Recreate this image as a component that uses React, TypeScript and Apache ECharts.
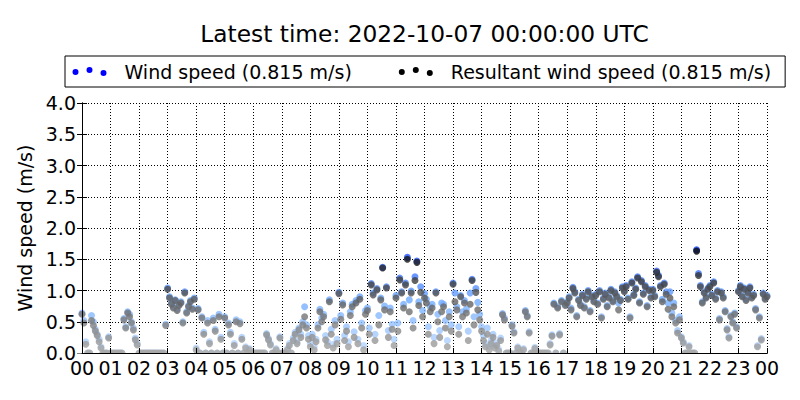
import React, { useEffect, useRef } from "react";
import * as echarts from "echarts";

const latestTime = "2022-10-07 00:00:00 UTC";
const latestWindSpeed = 0.815;
const latestResultant = 0.815;

const hourLabels = [
  "00", "01", "02", "03", "04", "05", "06", "07", "08", "09", "10", "11",
  "12", "13", "14", "15", "16", "17", "18", "19", "20", "21", "22", "23", "00",
];

const yTickValues = [0, 0.5, 1, 1.5, 2, 2.5, 3, 3.5, 4];

// 4-minute samples (15 per hour), m/s
const samplesPerHour = 15;

const windSpeed = [
  /* 00 */ 0.64, 0.52, 0.18, 0.0, 0.0, 0.6, 0.5, 0.38, 0.3, 0.22, 0.1, 0.0, 0.0, 0.0, 0.26,
  /* 01 */ 0.0, 0.0, 0.0, 0.0, 0.0, 0.0, 0.0, 0.55, 0.42, 0.66, 0.62, 0.5, 0.4, 0.24, 0.15,
  /* 02 */ 0.0, 0.0, 0.0, 0.0, 0.0, 0.0, 0.0, 0.0, 0.0, 0.0, 0.0, 0.0, 0.0, 0.0, 0.46,
  /* 03 */ 1.04, 0.9, 0.8, 0.74, 0.85, 0.7, 0.78, 0.82, 0.5, 0.98, 0.66, 0.76, 0.84, 0.72, 0.88,
  /* 04 */ 0.08, 0.71, 0.0, 0.58, 0.33, 0.0, 0.52, 0.18, 0.0, 0.56, 0.38, 0.0, 0.62, 0.25, 0.0,
  /* 05 */ 0.58, 0.0, 0.48, 0.33, 0.0, 0.15, 0.53, 0.0, 0.5, 0.25, 0.0, 0.1, 0.0, 0.07, 0.0,
  /* 06 */ 0.0, 0.0, 0.0, 0.0, 0.0, 0.0, 0.0, 0.31, 0.23, 0.15, 0.0, 0.0, 0.07, 0.0, 0.26,
  /* 07 */ 0.0, 0.0, 0.0, 0.07, 0.15, 0.0, 0.24, 0.33, 0.18, 0.4, 0.3, 0.5, 0.74, 0.45, 0.28,
  /* 08 */ 0.15, 0.3, 0.1, 0.22, 0.45, 0.7, 0.56, 0.62, 0.28, 0.18, 0.85, 0.38, 0.14, 0.52, 0.22,
  /* 09 */ 0.97, 0.6, 0.8, 0.28, 0.42, 0.18, 0.66, 0.78, 0.34, 0.84, 0.22, 0.9, 0.48, 0.12, 0.68,
  /* 10 */ 0.72, 0.4, 1.11, 0.96, 0.3, 1.03, 0.6, 0.88, 1.37, 0.75, 1.06, 0.36, 0.72, 0.46, 0.22,
  /* 11 */ 0.92, 0.48, 1.2, 0.98, 0.78, 1.12, 1.53, 0.85, 0.99, 0.52, 1.22, 1.47, 0.82, 1.06, 0.68,
  /* 12 */ 0.95, 0.86, 0.42, 0.74, 0.78, 0.25, 0.98, 0.62, 0.36, 0.8, 0.78, 0.52, 0.2, 0.66, 0.45,
  /* 13 */ 1.12, 0.96, 0.74, 0.42, 0.92, 0.66, 0.84, 0.7, 0.35, 0.96, 1.18, 0.58, 1.03, 0.81, 0.62,
  /* 14 */ 0.42, 0.28, 0.15, 0.4, 0.1, 0.2, 0.3, 0.12, 0.16, 0.06, 0.24, 0.63, 0.56, 0.0, 0.0,
  /* 15 */ 0.0, 0.45, 0.34, 0.0, 0.1, 0.0, 0.0, 0.07, 0.68, 0.6, 0.34, 0.0, 0.0, 0.09, 0.0,
  /* 16 */ 0.0, 0.0, 0.0, 0.0, 0.0, 0.0, 0.15, 0.29, 0.8, 0.0, 0.74, 0.31, 0.84, 0.0, 0.78,
  /* 17 */ 0.82, 0.9, 0.72, 1.05, 0.98, 0.6, 0.86, 0.78, 0.94, 0.74, 0.88, 1.0, 0.68, 0.92, 0.84,
  /* 18 */ 0.94, 0.8, 1.0, 0.58, 0.88, 0.96, 0.76, 0.9, 1.02, 0.84, 0.98, 0.92, 0.8, 0.86, 1.06,
  /* 19 */ 1.0, 1.08, 0.88, 0.58, 1.14, 0.94, 1.04, 1.22, 0.82, 1.16, 0.96, 1.08, 0.76, 1.02, 0.9,
  /* 20 */ 1.02, 0.92, 1.31, 1.24, 1.08, 0.86, 1.12, 0.98, 0.8, 0.98, 0.64, 0.8, 0.52, 0.36, 0.58,
  /* 21 */ 0.26, 0.18, 0.0, 0.0, 0.12, 0.0, 0.0, 0.0, 1.65, 1.27, 1.08, 0.82, 0.98, 0.9, 1.04,
  /* 22 */ 1.08, 0.94, 1.14, 0.88, 1.0, 0.55, 0.98, 0.9, 0.68, 0.39, 0.26, 0.6, 0.5, 0.64, 0.42,
  /* 23 */ 1.0, 1.08, 0.92, 1.04, 0.86, 0.98, 1.06, 0.9, 0.94, 0.71, 0.12, 0.58, 0.23, 0.96, 0.88,
  /* 24 */ 0.92,
];

const resultantWindSpeed = [
  /* 00 */ 0.62, 0.48, 0.14, 0.0, 0.0, 0.52, 0.44, 0.35, 0.28, 0.18, 0.08, 0.0, 0.0, 0.0, 0.24,
  /* 01 */ 0.0, 0.0, 0.0, 0.0, 0.0, 0.0, 0.0, 0.53, 0.4, 0.64, 0.58, 0.48, 0.37, 0.21, 0.13,
  /* 02 */ 0.0, 0.0, 0.0, 0.0, 0.0, 0.0, 0.0, 0.0, 0.0, 0.0, 0.0, 0.0, 0.0, 0.0, 0.44,
  /* 03 */ 1.02, 0.88, 0.78, 0.72, 0.84, 0.68, 0.76, 0.8, 0.48, 0.96, 0.64, 0.74, 0.82, 0.7, 0.86,
  /* 04 */ 0.05, 0.69, 0.0, 0.56, 0.3, 0.0, 0.48, 0.15, 0.0, 0.52, 0.35, 0.0, 0.58, 0.22, 0.0,
  /* 05 */ 0.56, 0.0, 0.45, 0.3, 0.0, 0.12, 0.5, 0.0, 0.47, 0.22, 0.0, 0.08, 0.0, 0.05, 0.0,
  /* 06 */ 0.0, 0.0, 0.0, 0.0, 0.0, 0.0, 0.0, 0.29, 0.21, 0.13, 0.0, 0.0, 0.05, 0.0, 0.24,
  /* 07 */ 0.0, 0.0, 0.0, 0.05, 0.12, 0.0, 0.2, 0.3, 0.15, 0.37, 0.25, 0.45, 0.58, 0.4, 0.22,
  /* 08 */ 0.1, 0.25, 0.05, 0.18, 0.4, 0.66, 0.5, 0.58, 0.21, 0.12, 0.82, 0.3, 0.08, 0.45, 0.15,
  /* 09 */ 0.95, 0.54, 0.77, 0.2, 0.35, 0.1, 0.6, 0.74, 0.25, 0.8, 0.15, 0.86, 0.4, 0.05, 0.62,
  /* 10 */ 0.68, 0.3, 1.09, 0.93, 0.2, 1.01, 0.45, 0.85, 1.36, 0.69, 1.04, 0.25, 0.66, 0.38, 0.12,
  /* 11 */ 0.88, 0.35, 1.17, 0.96, 0.72, 1.09, 1.5, 0.66, 0.96, 0.4, 1.16, 1.45, 0.76, 0.97, 0.58,
  /* 12 */ 0.88, 0.8, 0.3, 0.66, 0.72, 0.15, 0.96, 0.5, 0.25, 0.66, 0.74, 0.4, 0.1, 0.58, 0.35,
  /* 13 */ 1.1, 0.82, 0.69, 0.3, 0.9, 0.58, 0.8, 0.64, 0.2, 0.78, 1.16, 0.45, 0.97, 0.69, 0.53,
  /* 14 */ 0.35, 0.2, 0.1, 0.3, 0.05, 0.15, 0.25, 0.08, 0.12, 0.03, 0.2, 0.61, 0.53, 0.0, 0.0,
  /* 15 */ 0.0, 0.43, 0.32, 0.0, 0.08, 0.0, 0.0, 0.05, 0.66, 0.58, 0.32, 0.0, 0.0, 0.07, 0.0,
  /* 16 */ 0.0, 0.0, 0.0, 0.0, 0.0, 0.0, 0.13, 0.27, 0.78, 0.0, 0.72, 0.29, 0.82, 0.0, 0.76,
  /* 17 */ 0.8, 0.88, 0.69, 1.03, 0.96, 0.58, 0.84, 0.76, 0.92, 0.72, 0.86, 0.98, 0.66, 0.9, 0.82,
  /* 18 */ 0.92, 0.78, 0.98, 0.56, 0.86, 0.94, 0.74, 0.88, 1.0, 0.82, 0.96, 0.9, 0.69, 0.84, 1.04,
  /* 19 */ 0.98, 1.06, 0.86, 0.56, 1.12, 0.92, 1.02, 1.2, 0.8, 1.14, 0.94, 1.06, 0.74, 1.0, 0.88,
  /* 20 */ 1.0, 0.9, 1.29, 1.22, 1.06, 0.82, 1.1, 0.94, 0.7, 0.88, 0.58, 0.74, 0.48, 0.32, 0.53,
  /* 21 */ 0.24, 0.16, 0.0, 0.0, 0.1, 0.0, 0.0, 0.0, 1.63, 1.24, 1.06, 0.8, 0.96, 0.88, 1.02,
  /* 22 */ 1.06, 0.92, 1.12, 0.86, 0.98, 0.53, 0.96, 0.88, 0.66, 0.37, 0.24, 0.58, 0.48, 0.62, 0.4,
  /* 23 */ 0.98, 1.06, 0.9, 1.02, 0.84, 0.96, 1.04, 0.88, 0.92, 0.69, 0.1, 0.56, 0.21, 0.94, 0.86,
  /* 24 */ 0.9,
];

const FONT = "DejaVu Sans";
const wsName = `Wind speed (${latestWindSpeed.toFixed(3)} m/s)`;
const rwsName = `Resultant wind speed (${latestResultant.toFixed(3)} m/s)`;

const legendDots =
  "path://M0 5A3 3 0 1 0 6 5A3 3 0 1 0 0 5Z" +
  "M14 3A3 3 0 1 0 20 3A3 3 0 1 0 14 3Z" +
  "M28 6A3 3 0 1 0 34 6A3 3 0 1 0 28 6Z";

function toPoints(values: number[]) {
  return values.map((v, i) => [i / samplesPerHour, v]);
}

export default function App() {
  const ref = useRef<HTMLDivElement>(null);

  useEffect(() => {
    if (!ref.current) return;
    const chart = echarts.init(ref.current, undefined, { renderer: "svg" });

    const tickFont = { fontFamily: FONT, fontSize: 19, color: "#000" };
    const gridLine = { show: true, lineStyle: { color: "#000", width: 1, type: [1, 2] as any } };

    chart.setOption({
      animation: false,
      backgroundColor: "#fff",
      title: {
        text: `Latest time: ${latestTime}`,
        left: 424.5,
        top: 22,
        textAlign: "center",
        padding: 0,
        textStyle: { fontFamily: FONT, fontSize: 23.3, fontWeight: "normal", color: "#000" },
      },
      legend: {
        left: 65,
        top: 56,
        padding: [6, 14, 6, 7.5],
        itemGap: 47,
        itemWidth: 34,
        itemHeight: 9,
        icon: legendDots,
        borderColor: "#000",
        borderWidth: 1,
        borderRadius: 0,
        selectedMode: false,
        textStyle: { fontFamily: FONT, fontSize: 19, color: "#000", padding: [0, 0, 0, 13] },
        data: [
          { name: wsName, itemStyle: { color: "#0000ff", opacity: 1 } },
          { name: rwsName, itemStyle: { color: "#000000", opacity: 1 } },
        ],
      },
      grid: { left: 82, right: 33, top: 103, bottom: 47, containLabel: false },
      xAxis: [
        {
          type: "value",
          position: "bottom",
          min: 0,
          max: 24,
          interval: 1,
          z: 10,
          axisLine: { show: true, lineStyle: { color: "#000", width: 1 } },
          axisTick: { show: true, inside: true, length: 5, lineStyle: { color: "#000" } },
          axisLabel: { ...tickFont, margin: 5, formatter: (v: number) => hourLabels[Math.round(v)] },
          splitLine: { show: false },
        },
        {
          type: "value",
          position: "top",
          min: 0,
          max: 24,
          interval: 1,
          z: 0,
          axisLine: { show: true, lineStyle: { color: "#000", width: 1 } },
          axisTick: { show: true, inside: true, length: 5, lineStyle: { color: "#000" } },
          axisLabel: { show: false },
          splitLine: gridLine,
        },
      ],
      yAxis: [
        {
          type: "value",
          position: "left",
          min: 0,
          max: 4,
          interval: 0.5,
          z: 10,
          name: "Wind speed (m/s)",
          nameLocation: "middle",
          nameRotate: 90,
          nameGap: 41,
          nameTextStyle: { fontFamily: FONT, fontSize: 19, color: "#000" },
          axisLine: { show: true, lineStyle: { color: "#000", width: 1 } },
          axisTick: { show: true, inside: true, length: 5, lineStyle: { color: "#000" } },
          axisLabel: {
            ...tickFont,
            margin: 6,
            formatter: (v: number) => (yTickValues.includes(v) ? v.toFixed(1) : ""),
          },
          splitLine: { show: false },
        },
        {
          type: "value",
          position: "right",
          min: 0,
          max: 4,
          interval: 0.5,
          z: 0,
          axisLine: { show: true, lineStyle: { color: "#000", width: 1 } },
          axisTick: { show: true, inside: true, length: 5, lineStyle: { color: "#000" } },
          axisLabel: { show: false },
          splitLine: gridLine,
        },
      ],
      visualMap: [
        {
          type: "continuous",
          show: false,
          seriesIndex: 0,
          dimension: 1,
          min: 0,
          max: 1.7,
          inRange: { color: ["#c0dcff", "#6eaaff", "#0a3cff"] },
        },
        {
          type: "continuous",
          show: false,
          seriesIndex: 1,
          dimension: 1,
          min: 0,
          max: 1.7,
          inRange: { color: ["#a8a8a8", "#5e5e5e", "#000000"] },
        },
      ],
      graphic: [
        {
          type: "rect",
          z: 5,
          silent: true,
          shape: { x: 76, y: 353.5, width: 698, height: 5 },
          style: { fill: "#fff" },
        },
      ],
      series: [
        {
          type: "scatter",
          name: wsName,
          xAxisIndex: 0,
          yAxisIndex: 0,
          symbol: "circle",
          symbolSize: 7,
          itemStyle: { color: "#0000ff" },
          data: toPoints(windSpeed),
          z: 2,
        },
        {
          type: "scatter",
          name: rwsName,
          xAxisIndex: 0,
          yAxisIndex: 0,
          symbol: "circle",
          symbolSize: 7,
          itemStyle: { color: "#000000" },
          data: toPoints(resultantWindSpeed),
          z: 2,
        },
      ],
    });

    return () => chart.dispose();
  }, []);

  return (
    <div
      ref={ref}
      style={{ position: "fixed", left: 0, top: 0, width: 800, height: 400, background: "#fff" }}
    />
  );
}
